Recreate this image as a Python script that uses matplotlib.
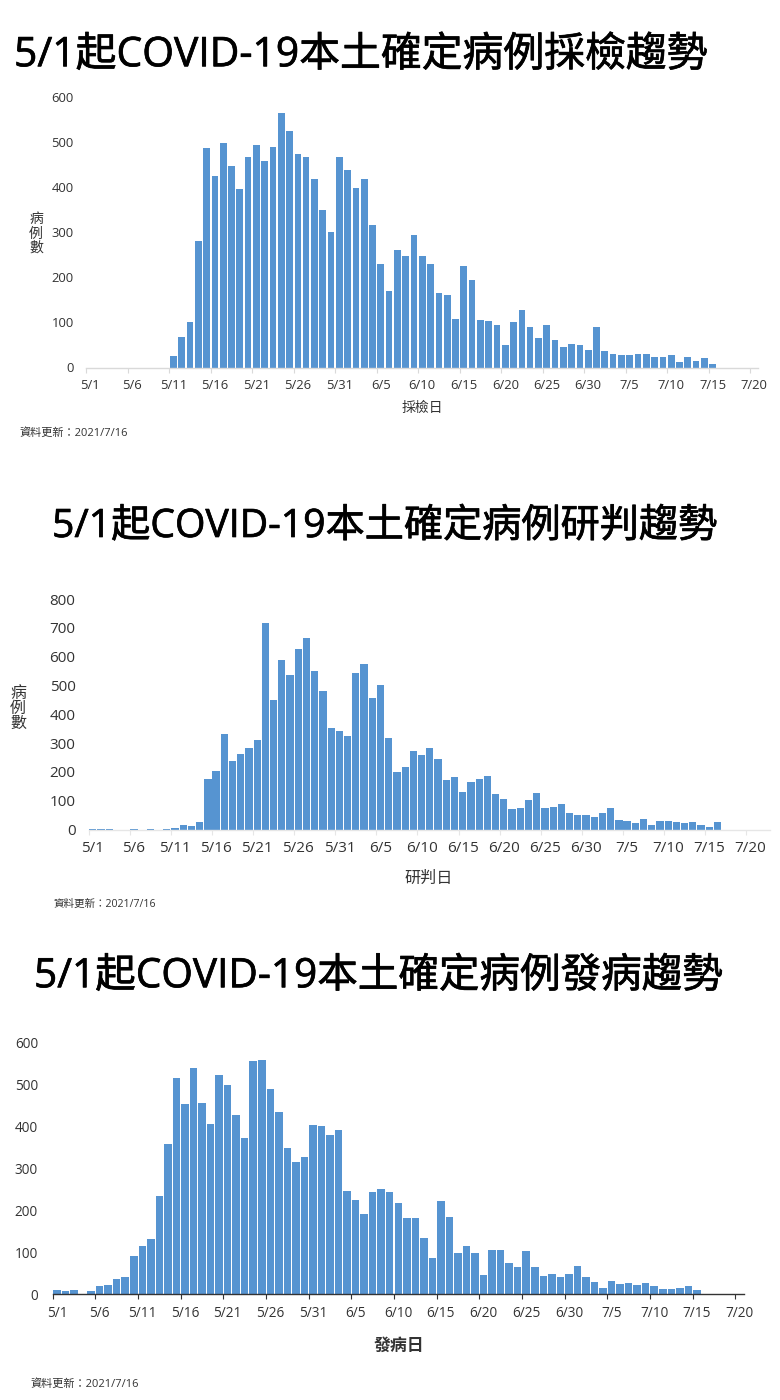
import matplotlib
matplotlib.use("Agg")
import matplotlib.pyplot as plt
import matplotlib.patheffects as pe
import numpy as np

plt.rcParams['font.family'] = ['Open Sans', 'Noto Sans CJK TC', 'DejaVu Sans']

W, H = 780, 1400
bar_colour = '#5694d1'
text_colour = '#333333'

# values per day, first bar is 5/1
sample_cases = [0] * 10 + [
    25, 67, 101, 281, 487, 424, 497, 447, 396, 467, 493, 458, 489, 564, 524, 473,
    468, 419, 350, 301, 468, 437, 398, 419, 315, 229, 170, 260, 247, 294, 247, 229,
    165, 161, 107, 226, 195, 105, 104, 94, 50, 102, 127, 89, 66, 94, 62, 46,
    53, 51, 38, 90, 36, 31, 27, 27, 29, 29, 24, 24, 27, 13, 23, 15, 20, 7]

confirm_cases = [
    2, 2, 2, 0, 0, 2, 0, 2, 0, 2, 5, 14, 11, 27, 177, 203,
    332, 237, 262, 282, 310, 717, 450, 587, 537, 628, 663, 550, 482, 353, 343, 326,
    543, 575, 456, 503, 319, 199, 218, 271, 258, 284, 245, 171, 181, 130, 165, 174,
    184, 123, 105, 72, 74, 102, 127, 74, 78, 87, 56, 51, 51, 45, 56, 74, 34, 28,
    24, 37, 17, 30, 30, 27, 21, 27, 14, 10, 27]

onset_cases = [
    10, 6, 9, 1, 8, 19, 22, 35, 41, 92, 115, 132, 234, 359, 516, 454,
    541, 456, 407, 523, 500, 427, 373, 558, 560, 489, 435, 349, 316, 327, 405, 401,
    379, 392, 247, 224, 191, 243, 250, 243, 218, 181, 181, 133, 87, 223, 183, 97,
    115, 98, 46, 104, 104, 75, 65, 102, 65, 42, 49, 41, 49, 67, 41, 28, 14, 32,
    25, 26, 22, 26, 18, 13, 13, 14, 18, 9]

date_labels = ['5/1', '5/6', '5/11', '5/16', '5/21', '5/26', '5/31', '6/5', '6/10',
               '6/15', '6/20', '6/25', '6/30', '7/5', '7/10', '7/15', '7/20']
date_pos = np.arange(0, 81, 5)

titles = ['5/1起COVID-19本土確定病例採檢趨勢', '5/1起COVID-19本土確定病例研判趨勢', '5/1起COVID-19本土確定病例發病趨勢']
xlabels = ['採檢日', '研判日', '發病日']
ylabel_text = '病\n例\n數'
update_text = '資料更新：2021/7/16'

fig = plt.figure(figsize=(W / 100, H / 100), dpi=100)


def add_chart(values, yticks, x0, x20, xend, y0, ytop, width, fs, spine_colour, pad):
    # x0/x20 are the pixels of the 5/1 and 7/20 ticks, y0/ytop of the first and last y tick
    ax = fig.add_axes([x0 / W, 1 - y0 / H, (xend - x0) / W, (y0 - ytop) / H])
    per_day = (x20 - x0) / 80
    ax.bar(np.arange(len(values)) + 0.5, values, width=width, color=bar_colour)
    ax.set_xlim(0, (xend - x0) / per_day)
    ax.set_ylim(yticks[0], yticks[-1])
    ax.set_yticks(yticks)
    ax.set_xticks(date_pos)
    ax.set_xticklabels([])
    ax.set_xticks(date_pos + 0.5, minor=True)
    ax.set_xticklabels(date_labels, minor=True)
    ax.tick_params(axis='x', which='major', length=3.5, width=0.8, color=spine_colour)
    ax.tick_params(axis='x', which='minor', length=0, pad=8.5, labelsize=fs, labelcolor=text_colour)
    ax.tick_params(axis='y', length=0, pad=pad, labelsize=fs, labelcolor=text_colour)
    for side in ['top', 'right', 'left']:
        ax.spines[side].set_visible(False)
    ax.spines['bottom'].set_color(spine_colour)
    ax.spines['bottom'].set_linewidth(1.0)
    ax.patch.set_alpha(0)
    return ax


def put(x, y, s, **kw):
    fig.text(x / W, 1 - y / H, s, **kw)


def put_title(x, y, s, fs):
    # the title face is a bit heavier than regular, no medium weight installed
    t = fig.text(x / W, 1 - y / H, s, fontsize=fs, color='black', va='center', ha='left')
    t.set_path_effects([pe.withStroke(linewidth=0.5, foreground='black')])


# %% panel 1
add_chart(sample_cases, np.arange(0, 601, 100), 86.3, 750, 757.5, 367.5, 97, 0.8, 9.4, '#d9d9d9', 9)
put_title(14, 56, titles[0], 29.4)
put(36, 234, ylabel_text, fontsize=10, color=text_colour, va='center', ha='center', linespacing=0.95)
put(422, 408, xlabels[0], fontsize=10, color=text_colour, va='center', ha='center')
put(19, 433, update_text, fontsize=8, color=text_colour, va='center', ha='left')

# %% panel 2
add_chart(confirm_cases, np.arange(0, 801, 100), 88.7, 746.3, 770, 829.5, 599, 0.88, 11, '#e6e6e6', 9.5)
put_title(52, 527, titles[1], 28.2)
put(18, 709, ylabel_text, fontsize=11.5, color=text_colour, va='center', ha='center', linespacing=0.95)
put(429, 879, xlabels[1], fontsize=11.6, color=text_colour, va='center', ha='center')
put(54, 904, update_text, fontsize=7.6, color=text_colour, va='center', ha='left')

# %% panel 3
add_chart(onset_cases, np.arange(0, 601, 100), 52.7, 735.3, 744, 1294, 1043, 0.88, 9.8, '#333333', 10.5)
put_title(34, 977, titles[2], 29.2)
put(399, 1346, xlabels[2], fontsize=12.2, weight='bold', color=text_colour, va='center', ha='center')
put(30, 1384, update_text, fontsize=8, color=text_colour, va='center', ha='left')

fig.savefig('out.png', dpi=100, facecolor='white')
